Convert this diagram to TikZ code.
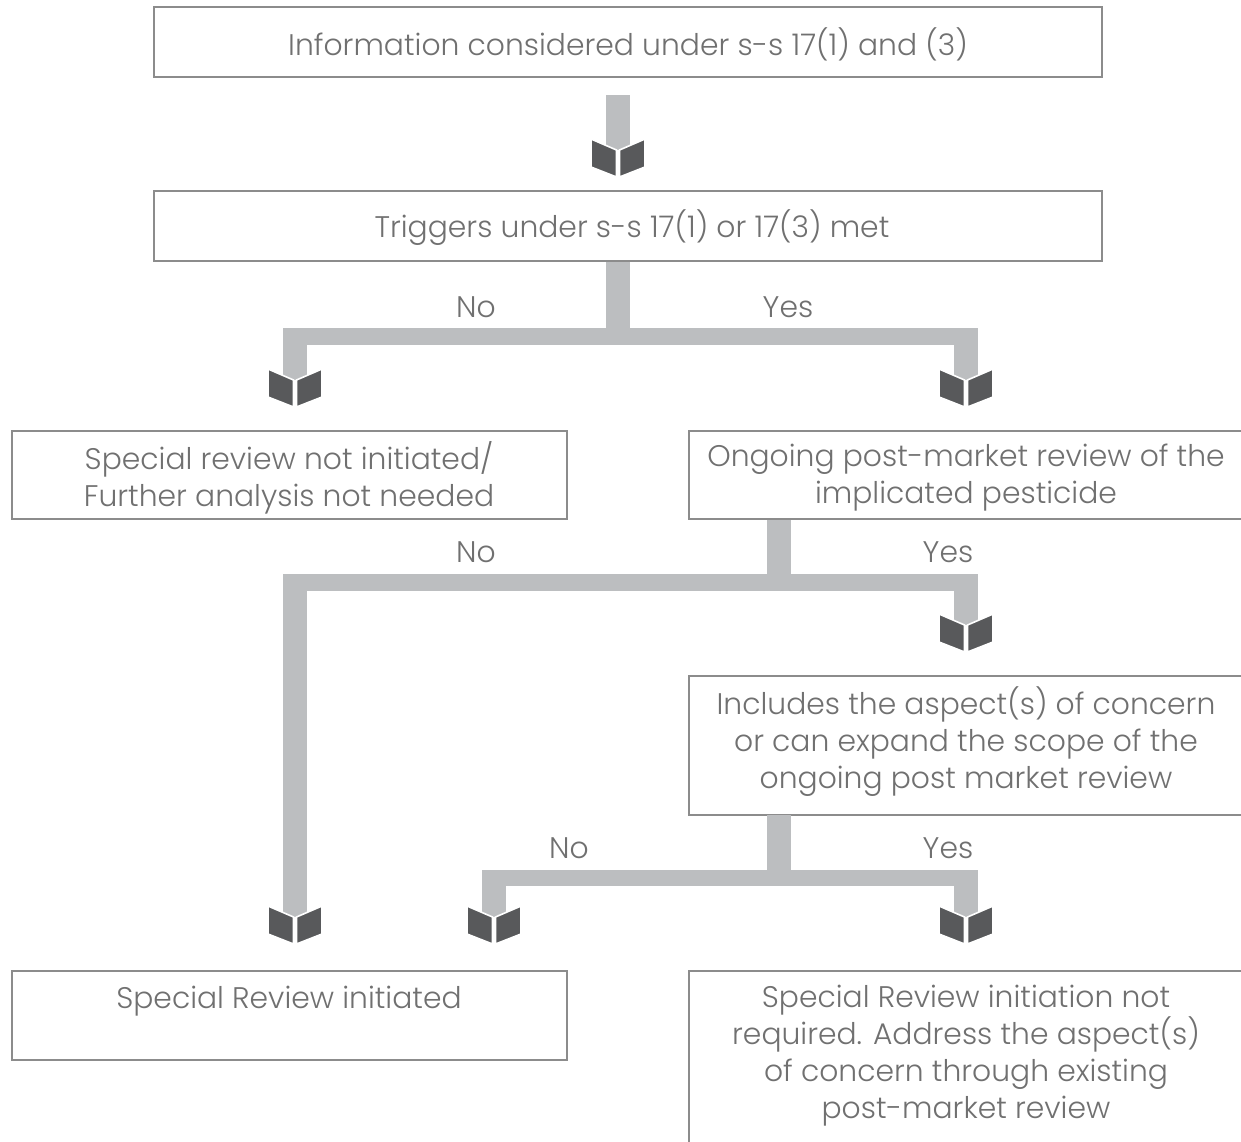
\documentclass[tikz,border=0pt]{standalone}
\usepackage{fontspec}
\setmainfont{Poppins Light}
\usetikzlibrary{fit}
\definecolor{boxc}{HTML}{8C8C8C}
\definecolor{txtc}{HTML}{707070}
\definecolor{barc}{HTML}{BCBEC0}
\definecolor{headc}{HTML}{58595B}
\tikzset{
  box/.style={draw=boxc, line width=1pt, inner sep=0pt, rectangle},
  txt/.style={text=txtc, font=\fontsize{14.9}{18.5}\selectfont, align=center, inner sep=0pt},
  lbl/.style={text=txtc, font=\fontsize{14.9}{18.5}\selectfont, inner sep=0pt},
  bar/.style={fill=barc},
  bookpiece/.style={fill=headc, draw=white, line width=0.8pt, line join=miter},
}
\newcommand\bookhead[2]{%
  \filldraw[bookpiece] (#1-1.5,#2) -- (#1-27,#2-11) -- (#1-27,#2+17) -- (#1-1.5,#2+27) -- cycle;
  \filldraw[bookpiece] (#1+1.5,#2) -- (#1+27,#2-11) -- (#1+27,#2+17) -- (#1+1.5,#2+27) -- cycle;
}
\begin{document}
\begin{tikzpicture}[x=0.5pt,y=-0.5pt]
\useasboundingbox (0,0) rectangle (1241,1141);
\clip (0,0) rectangle (1241,1141);
% boxes
\node[box, fit={(154,7) (1102,77)}] (b1) {};
\node[box, fit={(154,191) (1102,261)}] (b2) {};
\node[box, fit={(12,431) (567,519)}] (b3) {};
\node[box, fit={(689,431) (1245,519)}] (b4) {};
\node[box, fit={(689,676) (1245,815)}] (b5) {};
\node[box, fit={(12,971) (567,1060)}] (b6) {};
\node[box, fit={(689,971) (1245,1170)}] (b7) {};
% texts
\node[txt] (t1) at (628,44) {Information considered under s-s 17(1) and (3)};
\node[txt] (t2) at (632,228) {Triggers under s-s 17(1) or 17(3) met};
\node[txt] (t3) at (289,478) {Special review not initiated/\\Further analysis not needed};
\node[txt] (t4) at (966,478) {Ongoing post-market review of the\\implicated pesticide};
\node[txt] (t5) at (966,742) {Includes the aspect(s) of concern\\or can expand the scope of the\\ongoing post market review};
\node[txt] (t6) at (289,1001) {Special Review initiated};
\node[txt] (t7) at (966,1056) {Special Review initiation not\\required. Address the aspect(s)\\of concern through existing\\post-market review};
% labels
\node[lbl] (l1) at (476,307) {No};
\node[lbl] (l2) at (788,307) {Yes};
\node[lbl] (l3) at (476,552) {No};
\node[lbl] (l4) at (948,552) {Yes};
\node[lbl] (l5) at (569,848) {No};
\node[lbl] (l6) at (948,848) {Yes};
% level 1
\fill[bar] (606,95) rectangle (630,150);
\bookhead{618}{150}
% level 2
\fill[bar] (606,262) rectangle (630,345);
\fill[bar] (283,328) rectangle (978,345);
\fill[bar] (283,328) rectangle (307,380);
\fill[bar] (954,328) rectangle (978,380);
\bookhead{295}{380}
\bookhead{966}{380}
% level 3
\fill[bar] (767,520) rectangle (791,591);
\fill[bar] (283,574) rectangle (978,591);
\fill[bar] (283,574) rectangle (307,917);
\fill[bar] (954,574) rectangle (978,625);
\bookhead{295}{917}
\bookhead{966}{625}
% level 4
\fill[bar] (767,815) rectangle (791,886);
\fill[bar] (482,870) rectangle (978,886);
\fill[bar] (482,870) rectangle (506,917);
\fill[bar] (954,870) rectangle (978,917);
\bookhead{494}{917}
\bookhead{966}{917}
\end{tikzpicture}
\end{document}
